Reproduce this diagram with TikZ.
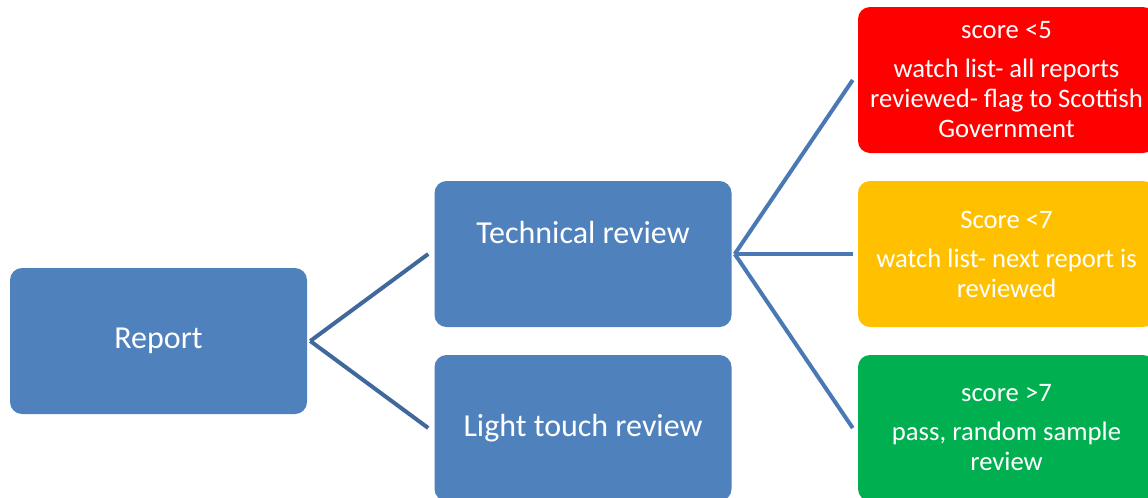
\documentclass[tikz,border=0pt]{standalone}
\usepackage{fontspec}
\setmainfont{Carlito}
\usetikzlibrary{calc}
\definecolor{boxblue}{HTML}{4F81BD}
\definecolor{linkdark}{HTML}{41689C}
\definecolor{linklight}{HTML}{4A78B4}
\definecolor{boxred}{HTML}{FF0000}
\definecolor{boxamber}{HTML}{FFC000}
\definecolor{boxgreen}{HTML}{00B050}
\tikzset{
  box/.style={rounded corners=9pt, minimum width=222.75pt, minimum height=109.5pt,
    inner sep=0pt, text=white, align=center},
  bigtext/.style={font=\fontsize{24}{29}\selectfont},
  smalltext/.style={font=\fontsize{20}{22.5}\selectfont},
  link/.style={line width=3pt}
}
\begin{document}
\begin{tikzpicture}[x=0.75pt,y=-0.75pt]
  \useasboundingbox (0,0) rectangle (1148,497);
  % left column
  \node[box,bigtext,fill=boxblue] (rep) at (158.5,341) {Report};
  % middle column
  \node[box,bigtext,fill=boxblue] (tech) at (583,254) {Technical review\\[4pt]\mbox{}};
  \node[box,bigtext,fill=boxblue] (light) at (583,428) {Light touch review};
  % score boxes
  \node[box,smalltext,fill=boxred] (low) at (1006.5,80)
    {score <5\\[6.75pt]watch list- all reports\\reviewed- flag to Scottish\\Government};
  \node[box,smalltext,fill=boxamber] (mid) at (1006.5,254)
    {Score <7\\[6.75pt]watch list- next report is\\reviewed};
  \node[box,smalltext,fill=boxgreen] (high) at (1006.5,428)
    {score >7\\[6.75pt]pass, random sample\\review};
  % connectors
  \draw[link,linkdark] ($(rep.east)+(3,0)$) -- ($(tech.west)+(-6,0)$);
  \draw[link,linkdark] ($(rep.east)+(3,0)$) -- ($(light.west)+(-6,0)$);
  \draw[link,linklight] ($(tech.east)+(3,0)$) -- ($(low.west)+(-5,0)$);
  \draw[link,linklight] ($(tech.east)+(3,0)$) -- ($(mid.west)+(-5,0)$);
  \draw[link,linklight] ($(tech.east)+(3,0)$) -- ($(high.west)+(-5,0)$);
\end{tikzpicture}
\end{document}
